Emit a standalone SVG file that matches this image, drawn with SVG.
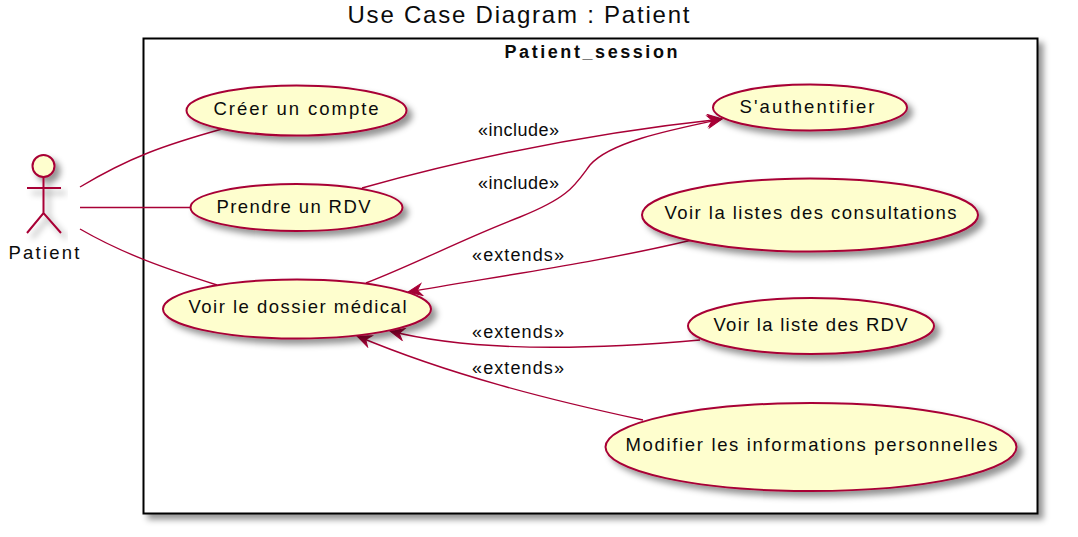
<svg xmlns="http://www.w3.org/2000/svg" width="1078" height="537" viewBox="0 0 1078 537">
<style>
text{font-family:"Liberation Sans",Arial,sans-serif;fill:#0b0b0b;text-anchor:middle}
.l{font-size:18.5px}
.e{font-size:18px}
.u{fill:#fefece;stroke:#a80036;stroke-width:2;filter:url(#s)}
.c{fill:none;stroke:#a80036;stroke-width:1.4}
</style>
<defs>
<filter id="s" x="-20%" y="-30%" width="140%" height="170%"><feDropShadow dx="5" dy="5" stdDeviation="3" flood-color="#000" flood-opacity=".42"/></filter>
<marker id="a" markerUnits="userSpaceOnUse" markerWidth="20" markerHeight="16" refX="16" refY="7" orient="auto"><path d="M2 1L16 7L2 13L6.500 7Z" fill="#a80036" stroke="#a80036"/></marker>
</defs>
<rect width="1078" height="537" fill="#fff"/>
<text x="518.500" y="23" textLength="342" style="font-size:24px">Use Case Diagram : Patient</text>
<g id="Patient_session">
<rect x="143.500" y="38.500" width="894" height="475" fill="#fff" stroke="#000" stroke-width="2" filter="url(#s)"/>
<text x="591" y="57.500" textLength="173" style="font-size:18px;font-weight:700">Patient_session</text>
</g>
<g id="connectors">
<path class="c" d="M80 187C130 157 165 145 222 129"/>
<path class="c" d="M80 207.500H191"/>
<path class="c" d="M80 229C125 255 170 270 217 285"/>
<path class="c" d="M362 188C480 155 600 132 722 119" marker-end="url(#a)"/>
<path class="c" d="M366 283C420 262 460 240 520 217C570 197 575 185 590 165C610 142 670 130 722 119" marker-end="url(#a)"/>
<path class="c" d="M692 240C600 262 500 276 408 292" marker-end="url(#a)"/>
<path class="c" d="M700 340C610 348 480 354 390 331" marker-end="url(#a)"/>
<path class="c" d="M643 420C550 400 450 375 357 336" marker-end="url(#a)"/>
</g>
<g id="patient">
<g fill="none" stroke="#a80036" stroke-width="2" filter="url(#s)">
<circle cx="43.500" cy="166" r="11" fill="#fefece"/>
<path d="M43.500 177V213M27 188H61M27 233L43.500 213L61 233"/>
</g>
<text class="l" x="44" y="258.500" textLength="71">Patient</text>
</g>
<g id="creer"><ellipse class="u" cx="296.500" cy="110.500" rx="110" ry="25"/><text class="l" x="296" y="115" textLength="165">Créer un compte</text></g>
<g id="rdv"><ellipse class="u" cx="296.500" cy="207.500" rx="106" ry="23.500"/><text class="l" x="293.500" y="213" textLength="154">Prendre un RDV</text></g>
<g id="dossier"><ellipse class="u" cx="297" cy="309" rx="134" ry="29.500"/><text class="l" x="297.500" y="312.500" textLength="218">Voir le dossier médical</text></g>
<g id="auth"><ellipse class="u" cx="810" cy="107.500" rx="97" ry="23"/><text class="l" x="807" y="112.500" textLength="135">S'authentifier</text></g>
<g id="consult"><ellipse class="u" cx="810" cy="215" rx="168" ry="36.500"/><text class="l" x="810.500" y="218.500" textLength="292">Voir la listes des consultations</text></g>
<g id="listerdv"><ellipse class="u" cx="811" cy="326" rx="123" ry="28"/><text class="l" x="810.500" y="331" textLength="194">Voir la liste des RDV</text></g>
<g id="modifier"><ellipse class="u" cx="811" cy="447" rx="205.500" ry="44"/><text class="l" x="811.500" y="450.500" textLength="372">Modifier les informations personnelles</text></g>
<g id="labels">
<text class="e" x="518.500" y="135.500" textLength="81">«include»</text>
<text class="e" x="518.500" y="189" textLength="81">«include»</text>
<text class="e" x="518" y="261" textLength="92">«extends»</text>
<text class="e" x="518" y="338" textLength="92">«extends»</text>
<text class="e" x="518" y="374" textLength="92">«extends»</text>
</g>
</svg>
